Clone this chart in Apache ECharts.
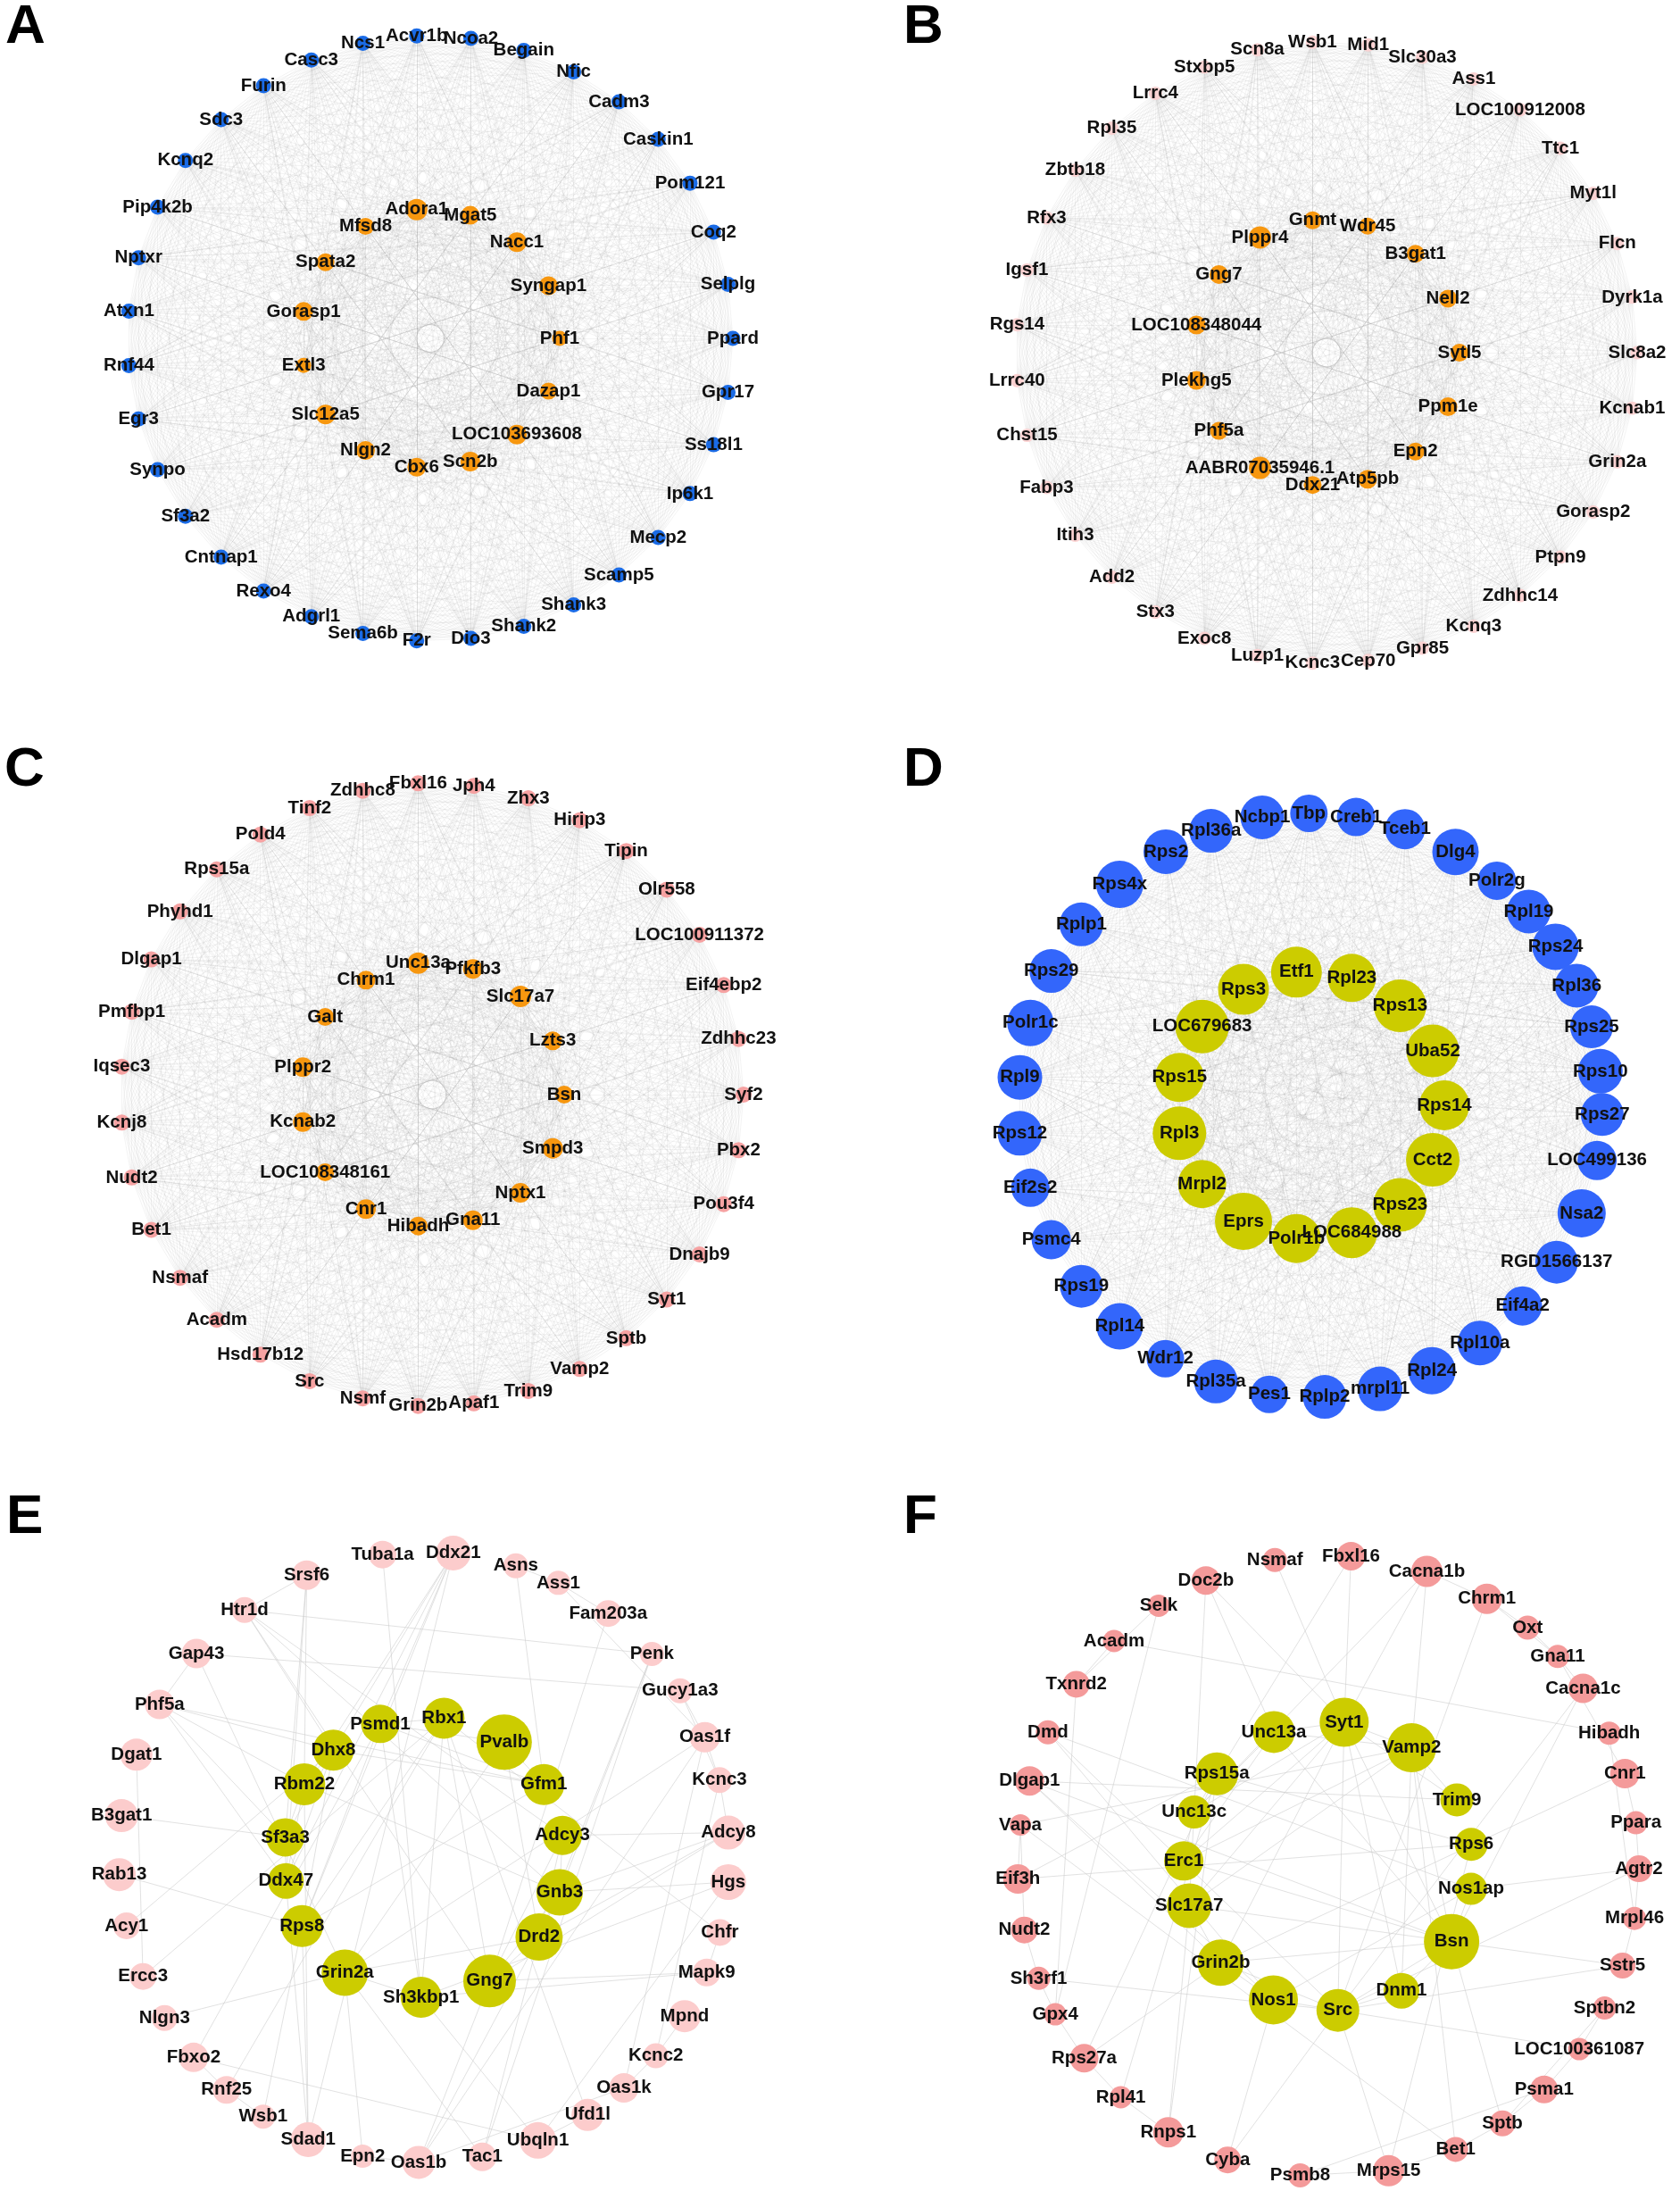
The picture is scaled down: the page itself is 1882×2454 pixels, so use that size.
<!DOCTYPE html>
<html>
<head>
<meta charset="utf-8">
<script src="https://cdn.jsdelivr.net/npm/echarts@6/dist/echarts.min.js"></script>
<style>html,body{margin:0;padding:0;background:#fff}#c{width:1882px;height:2454px}</style>
</head>
<body>
<div id="c"></div>
<script>
// ================= DATA =================
// Panel A (rings listed clockwise, starting at 3 o'clock)
const outerA = ['Ppard','Gpr17','Ss18l1','Ip6k1','Mecp2','Scamp5','Shank3','Shank2','Dio3','F2r','Sema6b','Adgrl1','Rexo4','Cntnap1','Sf3a2','Synpo','Egr3','Rnf44','Atxn1','Nptxr','Pip4k2b','Kcnq2','Sdc3','Furin','Casc3','Ncs1','Acvr1b','Ncoa2','Begain','Nfic','Cadm3','Caskin1','Pom121','Coq2','Selplg'];
const innerA = ['Phf1','Dazap1','LOC103693608','Scn2b','Cbx6','Nlgn2','Slc12a5','Extl3','Gorasp1','Spata2','Mfsd8','Adora1','Mgat5','Nacc1','Syngap1'];
const innerA_score = [17,19,22,22,21,21,22,17,21,20,19,24,21,22,21];

// Panel B
const outerB = ['Slc8a2','Kcnab1','Grin2a','Gorasp2','Ptpn9','Zdhhc14','Kcnq3','Gpr85','Cep70','Kcnc3','Luzp1','Exoc8','Stx3','Add2','Itih3','Fabp3','Chst15','Lrrc40','Rgs14','Igsf1','Rfx3','Zbtb18','Rpl35','Lrrc4','Stxbp5','Scn8a','Wsb1','Mid1','Slc30a3','Ass1','LOC100912008','Ttc1','Myt1l','Flcn','Dyrk1a'];
const innerB = ['Sytl5','Ppm1e','Epn2','Atp5pb','Ddx21','AABR07035946.1','Phf5a','Plekhg5','LOC108348044','Gng7','Plppr4','Gnmt','Wdr45','B3gat1','Nell2'];
const innerB_score = [20,21,20,21,20,25,20,21,21,21,25,20,19,20,20];

// Panel C
const outerC = ['Syf2','Pbx2','Pou3f4','Dnajb9','Syt1','Sptb','Vamp2','Trim9','Apaf1','Grin2b','Nsmf','Src','Hsd17b12','Acadm','Nsmaf','Bet1','Nudt2','Kcnj8','Iqsec3','Pmfbp1','Dlgap1','Phyhd1','Rps15a','Pold4','Tinf2','Zdhhc8','Fbxl16','Jph4','Zhx3','Hirip3','Tipin','Olr558','LOC100911372','Eif4ebp2','Zdhhc23'];
const innerC = ['Bsn','Smpd3','Nptx1','Gna11','Hibadh','Cnr1','LOC108348161','Kcnab2','Plppr2','Galt','Chrm1','Unc13a','Pfkfb3','Slc17a7','Lzts3'];
const innerC_score = [20,23,22,22,21,22,20,22,22,20,21,24,22,24,21];

// Panel D
const outerD = ['Rps27','LOC499136','Nsa2','RGD1566137','Eif4a2','Rpl10a','Rpl24','mrpl11','Rplp2','Pes1','Rpl35a','Wdr12','Rpl14','Rps19','Psmc4','Eif2s2','Rps12','Rpl9','Polr1c','Rps29','Rplp1','Rps4x','Rps2','Rpl36a','Ncbp1','Tbp','Creb1','Tceb1','Dlg4','Polr2g','Rpl19','Rps24','Rpl36','Rps25','Rps10'];
const outerD_angle = [1.8,10.9,21.7,32.5,43.4,54.5,65.4,76.2,87.2,98.1,108.9,119.8,130.8,141.7,152.6,163.6,174.5,185.5,196.4,207.4,218.3,229.2,240.3,250.1,260.5,269.7,279.0,288.9,299.8,309.7,318.4,327.1,335.8,344.4,353.3];
const outerD_score = [48,44,54,48,44,50,53,50,49,42,49,42,52,48,44,43,50,50,52,49,49,53,50,49,49,42,43,45,52,43,49,52,49,48,50];
const innerD = ['Rps14','Cct2','Rps23','LOC684988','Polr1b','Eprs','Mrpl2','Rpl3','Rps15','LOC679683','Rps3','Etf1','Rpl23','Rps13','Uba52'];
const innerD_score = [56,60,60,57,55,64,54,60,55,60,57,57,54,59,59];

// Panel E
const outerE = ['Hgs','Chfr','Mapk9','Mpnd','Kcnc2','Oas1k','Ufd1l','Ubqln1','Tac1','Oas1b','Epn2','Sdad1','Wsb1','Rnf25','Fbxo2','Nlgn3','Ercc3','Acy1','Rab13','B3gat1','Dgat1','Phf5a','Gap43','Htr1d','Srsf6','Tuba1a','Ddx21','Asns','Ass1','Fam203a','Penk','Gucy1a3','Oas1f','Kcnc3','Adcy8'];
const outerE_angle = [4.7,14.3,22.2,31.4,40.6,49.1,57.6,68.1,79.0,91.0,101.6,112.3,121.8,130.3,139.0,148.2,157.0,167.0,176.7,187.8,199.6,210.0,221.8,234.0,247.4,262.2,275.5,287.5,296.1,307.1,318.3,327.0,336.9,345.4,355.4];
const outerE_score = [40,30,31,36,28,33,36,41,32,37,26,39,27,31,33,29,30,30,37,37,36,33,33,29,33,31,39,28,27,30,27,28,34,29,38];
const innerE = ['Gnb3','Drd2','Gng7','Sh3kbp1','Grin2a','Rps8','Ddx47','Sf3a3','Rbm22','Dhx8','Psmd1','Rbx1','Pvalb','Gfm1','Adcy3'];
const innerE_angle = [14.6,34.8,62.1,91.2,124.4,150.5,170.2,188.1,211.3,229.7,251.8,278.2,304.9,328.8,351.1];
const innerE_score = [52,53,59,46,52,47,40,43,47,46,43,46,62,46,44];
const edgesE = [
 ['Dhx8','Rbm22'],['Dhx8','Sf3a3'],['Dhx8','Ddx47'],['Rbm22','Sf3a3'],['Rbm22','Ddx47'],['Sf3a3','Ddx47'],
 ['Psmd1','Rbx1'],['Psmd1','Rps8'],['Rbx1','Rps8'],['Gnb3','Gng7'],['Gnb3','Drd2'],['Gng7','Drd2'],
 ['Adcy3','Gnb3'],['Adcy3','Gng7'],['Adcy3','Drd2'],['Drd2','Grin2a'],['Grin2a','Sh3kbp1'],['Pvalb','Grin2a'],
 ['Pvalb','Gfm1'],['Rps8','Gfm1'],['Psmd1','Gfm1'],['Rbx1','Sh3kbp1'],['Dhx8','Gfm1'],['Psmd1','Sh3kbp1'],
 ['Rps8','Dhx8'],['Pvalb','Drd2'],['Rbx1','Gng7'],['Psmd1','Pvalb'],['Rbm22','Gnb3'],
 ['Srsf6','Rbm22'],['Srsf6','Sf3a3'],['Srsf6','Ddx47'],['Htr1d','Gnb3'],['Htr1d','Gng7'],['Htr1d','Adcy3'],
 ['Htr1d','Penk'],['Gap43','Gucy1a3'],['Gap43','Grin2a'],['Tuba1a','Sh3kbp1'],['Ddx21','Ddx47'],['Ddx21','Rbm22'],
 ['Ddx21','Dhx8'],['Ddx21','Rps8'],['Ddx21','Psmd1'],['Ddx21','Sdad1'],['Asns','Ass1'],['Asns','Gfm1'],
 ['Ass1','Fam203a'],['Ass1','Oas1f'],['Fam203a','Gng7'],['Penk','Drd2'],['Penk','Tac1'],['Penk','Gnb3'],
 ['Gucy1a3','Kcnc3'],['Gucy1a3','Oas1f'],['Oas1f','Kcnc3'],['Oas1f','Oas1k'],['Oas1f','Oas1b'],['Oas1f','Grin2a'],
 ['Kcnc3','Adcy8'],['Kcnc3','Kcnc2'],['Adcy8','Adcy3'],['Adcy8','Gnb3'],['Adcy8','Gng7'],['Adcy8','Drd2'],
 ['Hgs','Sh3kbp1'],['Hgs','Ubqln1'],['Hgs','Gnb3'],['Chfr','Rbx1'],['Chfr','Mapk9'],['Mapk9','Gng7'],
 ['Mapk9','Sh3kbp1'],['Mpnd','Kcnc2'],['Kcnc2','Oas1k'],['Oas1k','Oas1b'],['Ufd1l','Ubqln1'],['Ufd1l','Rbx1'],
 ['Ubqln1','Sh3kbp1'],['Ubqln1','Fbxo2'],['Tac1','Drd2'],['Tac1','Grin2a'],['Oas1b','Gng7'],['Oas1b','Drd2'],
 ['Epn2','Grin2a'],['Epn2','Oas1b'],['Sdad1','Rps8'],['Sdad1','Ddx47'],['Sdad1','Rbm22'],['Wsb1','Rps8'],
 ['Wsb1','Rnf25'],['Rnf25','Rbx1'],['Rnf25','Fbxo2'],['Fbxo2','Psmd1'],['Nlgn3','Grin2a'],['Ercc3','Rbx1'],
 ['Acy1','Dhx8'],['Rab13','Rps8'],['B3gat1','Sf3a3'],['Dgat1','Ercc3'],['Phf5a','Sf3a3'],['Phf5a','Dhx8'],
 ['Phf5a','Rbm22'],['Phf5a','Ddx47'],['Phf5a','Gfm1'],['Htr1d','Dhx8'],['Srsf6','Htr1d'],['Gap43','Phf5a']
];

// Panel F
const outerF = ['Agtr2','Mrpl46','Sstr5','Sptbn2','LOC100361087','Psma1','Sptb','Bet1','Mrps15','Psmb8','Cyba','Rnps1','Rpl41','Rps27a','Gpx4','Sh3rf1','Nudt2','Eif3h','Vapa','Dlgap1','Dmd','Txnrd2','Acadm','Selk','Doc2b','Nsmaf','Fbxl16','Cacna1b','Chrm1','Oxt','Gna11','Cacna1c','Hibadh','Cnr1','Ppara'];
const outerF_angle = [0.5,9.7,18.7,27.2,36.1,46.0,55.9,65.8,78.8,95.2,108.9,121.0,131.9,141.8,151.5,158.8,168.1,177.6,187.6,195.9,205.5,215.8,226.4,236.9,246.8,260.1,274.2,288.5,300.7,309.9,317.6,325.1,334.7,342.7,352.0];
const outerF_score = [30,26,29,26,25,31,29,28,35,27,30,34,25,32,25,26,30,33,24,33,27,30,25,25,32,27,32,35,34,27,26,33,26,33,26];
const innerF = ['Nos1ap','Bsn','Dnm1','Src','Nos1','Grin2b','Slc17a7','Erc1','Unc13c','Rps15a','Unc13a','Syt1','Vamp2','Trim9','Rps6'];
const innerF_angle = [9.1,31.5,59.6,86.2,112.3,138.1,164.1,182.0,201.9,219.6,247.9,276.3,305.2,332.8,351.4];
const innerF_score = [36,62,40,48,55,52,50,44,37,48,47,55,55,37,37];
const edgesF = [
 ['Syt1','Vamp2'],['Syt1','Unc13a'],['Syt1','Unc13c'],['Syt1','Erc1'],['Syt1','Slc17a7'],['Syt1','Bsn'],
 ['Syt1','Grin2b'],['Syt1','Src'],['Syt1','Dnm1'],['Syt1','Trim9'],['Vamp2','Unc13a'],['Vamp2','Trim9'],
 ['Vamp2','Bsn'],['Vamp2','Dnm1'],['Vamp2','Slc17a7'],['Vamp2','Erc1'],['Unc13a','Erc1'],['Unc13a','Bsn'],
 ['Unc13a','Unc13c'],['Unc13c','Erc1'],['Erc1','Bsn'],['Bsn','Slc17a7'],['Bsn','Nos1ap'],['Bsn','Dnm1'],
 ['Grin2b','Nos1'],['Grin2b','Src'],['Grin2b','Slc17a7'],['Nos1','Nos1ap'],['Nos1','Src'],['Src','Dnm1'],
 ['Rps15a','Rps6'],['Slc17a7','Unc13c'],['Grin2b','Bsn'],['Src','Bsn'],
 ['Fbxl16','Syt1'],['Fbxl16','Unc13c'],['Nsmaf','Syt1'],['Doc2b','Unc13a'],['Doc2b','Syt1'],['Doc2b','Unc13c'],
 ['Selk','Txnrd2'],['Selk','Gpx4'],['Acadm','Hibadh'],['Acadm','Txnrd2'],['Cacna1b','Syt1'],['Cacna1b','Vamp2'],
 ['Cacna1b','Chrm1'],['Cacna1b','Unc13c'],['Chrm1','Oxt'],['Chrm1','Gna11'],['Chrm1','Src'],['Oxt','Gna11'],
 ['Gna11','Cacna1c'],['Cacna1c','Src'],['Cacna1c','Bsn'],['Hibadh','Mrpl46'],['Cnr1','Ppara'],['Cnr1','Grin2b'],
 ['Cnr1','Gna11'],['Ppara','Agtr2'],['Agtr2','Src'],['Agtr2','Nos1ap'],['Agtr2','Mrpl46'],['Mrpl46','Sstr5'],
 ['Sstr5','Bsn'],['Sstr5','Src'],['Sptbn2','Sptb'],['Sptbn2','LOC100361087'],['LOC100361087','Psma1'],['LOC100361087','Src'],
 ['Psma1','Psmb8'],['Psma1','Sptb'],['Sptb','Bet1'],['Sptb','Bsn'],['Bet1','Vamp2'],['Bet1','Mrps15'],
 ['Mrps15','Rps6'],['Mrps15','Src'],['Psmb8','Mrps15'],['Cyba','Nos1'],['Cyba','Src'],['Rnps1','Rps15a'],
 ['Rnps1','Slc17a7'],['Rpl41','Rps27a'],['Rpl41','Rps15a'],['Rpl41','Rnps1'],['Rps27a','Rps15a'],['Rps27a','Grin2b'],
 ['Gpx4','Rps27a'],['Sh3rf1','Gpx4'],['Sh3rf1','Nudt2'],['Sh3rf1','Src'],['Nudt2','Vapa'],['Eif3h','Rps6'],
 ['Eif3h','Rps15a'],['Eif3h','Vapa'],['Vapa','Vamp2'],['Vapa','Bet1'],['Dlgap1','Grin2b'],['Dlgap1','Nos1'],
 ['Dlgap1','Bsn'],['Dlgap1','Trim9'],['Dmd','Nos1'],['Dmd','Src'],['Txnrd2','Gpx4'],['Dmd','Nos1ap']
];

const panelLetters = ['A','B','C','D','E','F'];

// ================= LAYOUT / STYLE =================
const FONT = 'Liberation Sans, Arial, Helvetica, sans-serif';
const YELLOW = '#cccc00', ORANGE = '#f7970f';
const PANELS = [
  {center:[482,379],  rOuter:339, rInner:145, outer:outerA, inner:innerA, outerScore:17, innerScore:innerA_score, outerColor:'#1a6be6', innerColor:ORANGE, edges:'all'},
  {center:[1486,395], rOuter:348, rInner:149, outer:outerB, inner:innerB, outerScore:15, innerScore:innerB_score, outerColor:'#fbd2d2', innerColor:ORANGE, edges:'all'},
  {center:[484,1226], rOuter:349, rInner:148, outer:outerC, inner:innerC, outerScore:18, innerScore:innerC_score, outerColor:'#f6a2a2', innerColor:ORANGE, edges:'all'},
  {center:[1468,1238],rOuter:327, rInner:150, outer:outerD, inner:innerD, outerAngle:outerD_angle, outerScore:outerD_score, innerScore:innerD_score, outerColor:'#3366fb', innerColor:YELLOW, edges:'all'},
  {center:[475,2080], rOuter:342, rInner:157, outer:outerE, inner:innerE, outerAngle:outerE_angle, innerAngle:innerE_angle, outerScore:outerE_score, innerScore:innerE_score, outerColor:'#fccccc', innerColor:YELLOW, edges:edgesE},
  {center:[1488,2090],rOuter:348, rInner:162, outer:outerF, inner:innerF, outerAngle:outerF_angle, innerAngle:innerF_angle, outerScore:outerF_score, innerScore:innerF_score, outerColor:'#f49a9a', innerColor:YELLOW, edges:edgesF}
];
const LETTER_POS = [[6,0],[1012,0],[5,832],[1012,832],[7,1669],[1012,1669]];

function ringNodes(names, r, angles, score, color) {
  return names.map((n, i) => ({
    name: n,
    value: [r, angles ? angles[i] : i * 360 / names.length],
    symbolSize: Array.isArray(score) ? score[i] : score,
    itemStyle: { color: color }
  }));
}

const option = {
  animation: false,
  backgroundColor: '#ffffff',
  title: panelLetters.map((t, i) => ({
    text: t, left: LETTER_POS[i][0], top: LETTER_POS[i][1], padding: 0,
    textStyle: { fontSize: 62, fontWeight: 'bold', fontFamily: FONT, color: '#000' }
  })),
  polar: PANELS.map(p => ({ center: p.center, radius: p.rOuter })),
  angleAxis: PANELS.map((p, i) => ({ polarIndex: i, type: 'value', min: 0, max: 360, startAngle: 0, clockwise: true, show: false })),
  radiusAxis: PANELS.map((p, i) => ({ polarIndex: i, type: 'value', min: 0, max: p.rOuter, show: false })),
  series: []
};

PANELS.forEach((p, i) => {
  const nodes = ringNodes(p.outer, p.rOuter, p.outerAngle, p.outerScore, p.outerColor)
    .concat(ringNodes(p.inner, p.rInner, p.innerAngle, p.innerScore, p.innerColor));
  let links = [];
  if (p.edges === 'all') {
    const all = p.outer.concat(p.inner);
    for (let a = 0; a < all.length; a++) for (let b = a + 1; b < all.length; b++) links.push({ source: all[a], target: all[b] });
  } else {
    links = p.edges.map(e => ({ source: e[0], target: e[1] }));
  }
  const dense = p.edges === 'all';
  // edges layer
  option.series.push({
    type: 'graph', coordinateSystem: 'polar', polarIndex: i, z: 2, silent: true,
    data: nodes.map(n => ({ name: n.name, value: n.value, symbolSize: 0 })),
    links: links,
    label: { show: false },
    lineStyle: dense ? { color: '#8c8c8c', width: 0.7, opacity: 0.15 } : { color: '#cdcdcd', width: 0.7, opacity: 0.85 },
    emphasis: { disabled: true }
  });
  // nodes layer
  option.series.push({
    type: 'graph', coordinateSystem: 'polar', polarIndex: i, z: 3, silent: true,
    data: nodes, links: [],
    label: { show: true, position: 'inside', color: '#111', fontSize: 20.5, fontWeight: 'bold', fontFamily: FONT },
    emphasis: { disabled: true }
  });
});

const chart = echarts.init(document.getElementById('c'), null, { renderer: 'canvas' });
chart.setOption(option);
</script>
</body>
</html>
